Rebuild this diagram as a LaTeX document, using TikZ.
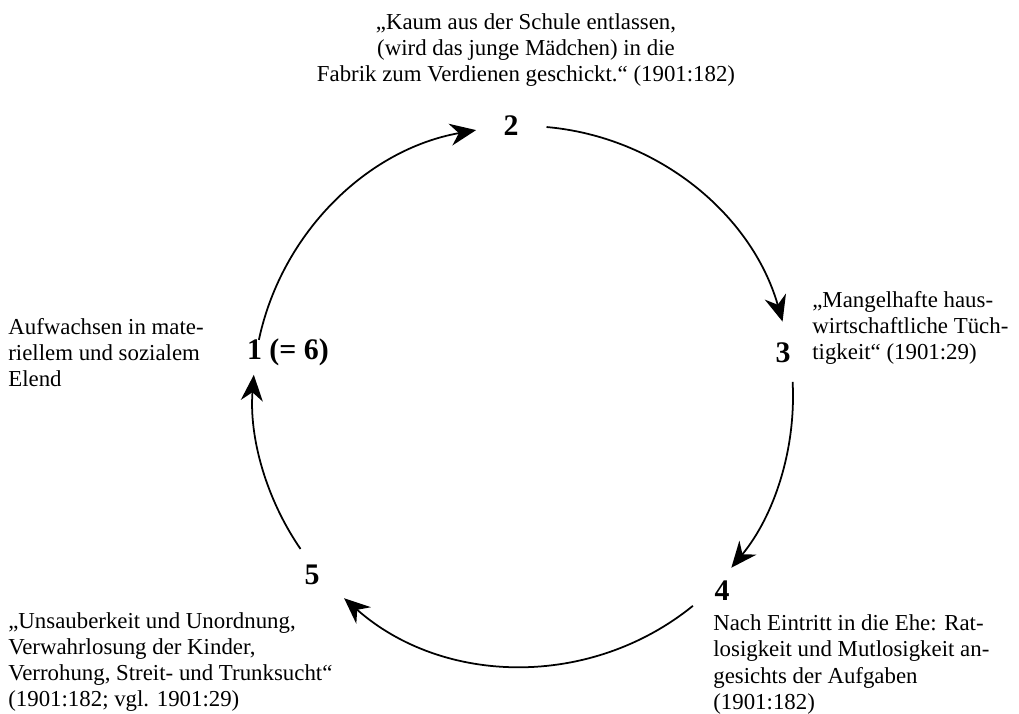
\documentclass[tikz,border=0pt]{standalone}
\usepackage{fontspec}
\setmainfont{Liberation Serif}
\usetikzlibrary{arrows.meta}
\tikzset{
  num/.style={font=\fontsize{17}{20}\selectfont\bfseries, inner sep=1pt},
  txt/.style={font=\fontsize{13}{14.8}\selectfont, align=left, inner sep=0pt},
  arr/.style={-{Stealth[length=5.2mm, width=4.4mm, inset=1.7mm]}, line width=1pt}
}
\newcommand{\rad}{5.4}

\begin{document}
\begin{tikzpicture}
  \useasboundingbox (-10.46,-6.34) rectangle (9.92,7.92);
  \coordinate (c) at (0,0);
  % stations
  \node[num, anchor=west] (n1) at (-5.56,0.88) {1 (= 6)};
  \node[num] (n2) at (-0.24,5.4) {2};
  \node[num] (n3) at (5.2,0.86) {3};
  \node[num] (n4) at (3.98,-3.9) {4};
  \node[num] (n5) at (-4.22,-3.58) {5};
  % texts
  \node[txt, align=center] (t2) at (0.06,6.92) {„Kaum aus der Schule entlassen,\\(wird das junge Mädchen) in die\\Fabrik zum Verdienen geschickt.“ (1901:182)};
  \node[txt, anchor=west] (t1) at (-10.30,0.86) {Aufwachsen in mate-\\riellem und sozialem\\Elend};
  \node[txt, anchor=west] (t3) at (5.78,1.36) {„Mangelhafte haus-\\wirtschaftliche Tüch-\\tigkeit“ (1901:29)};
  \node[txt, anchor=west] (t4) at (3.8,-5.37) {Nach Eintritt in die Ehe: Rat-\\losigkeit und Mutlosigkeit an-\\gesichts der Aufgaben\\(1901:182)};
  \node[txt, anchor=west] (t5) at (-10.30,-5.32) {„Unsauberkeit und Unordnung,\\Verwahrlosung der Kinder,\\Verrohung, Streit- und Trunksucht“\\(1901:182; vgl. 1901:29)};
  % cycle
  \draw[arr] (c) ++(168:\rad) arc[start angle=168, end angle=100, radius=\rad];
  \draw[arr] (c) ++(85:\rad) arc[start angle=85, end angle=16, radius=\rad];
  \draw[arr] (c) ++(3:\rad) arc[start angle=3, end angle=-39.5, radius=\rad];
  \draw[arr] (c) ++(-51:\rad) arc[start angle=-51, end angle=-131.5, radius=\rad];
  \draw[arr] (c) ++(-145.5:\rad) arc[start angle=-145.5, end angle=-184.5, radius=\rad];
\end{tikzpicture}
\end{document}
